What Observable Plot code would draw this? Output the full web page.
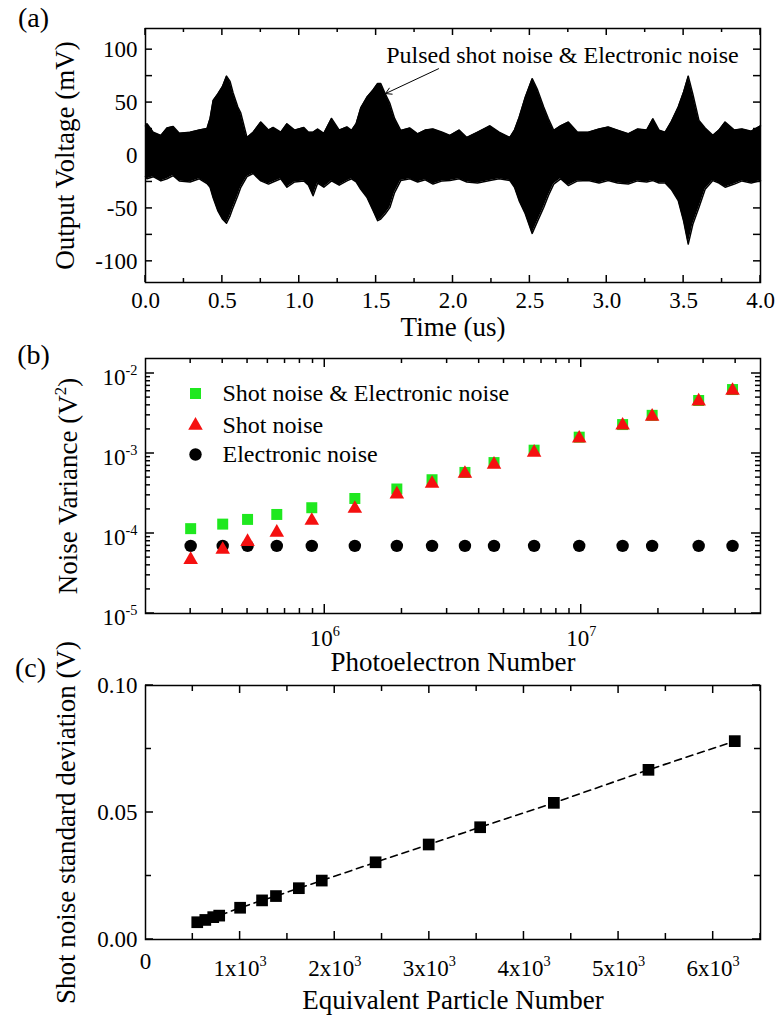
<!DOCTYPE html>
<html>
<head>
<meta charset="utf-8">
<script src="https://cdn.jsdelivr.net/npm/d3@7"></script>
<script src="https://cdn.jsdelivr.net/npm/@observablehq/plot@0.6"></script>
<style>
  body { margin: 0; background: #fff; }
  #fig { position: relative; width: 778px; height: 1018px; }
  #fig > div { position: absolute; left: 0; }
  #fig svg { overflow: visible; }
  #fig svg text, #fig svg tspan { font-family: "Liberation Serif", "Times New Roman", Times, serif !important; font-variant-numeric: normal !important; }
</style>
</head>
<body>
<div id="fig">
  <div id="pa" style="top:0px"></div>
  <div id="pb" style="top:330px"></div>
  <div id="pc" style="top:650px"></div>
</div>
<script>
// ---------- (a) oscilloscope traces: upper / lower envelope of the overlaid traces ----------
const traceTime = [0.00, 0.01, 0.05, 0.10, 0.14, 0.18, 0.22, 0.29, 0.35, 0.40, 0.42, 0.44, 0.47, 0.50, 0.527, 0.55, 0.57, 0.60, 0.62, 0.66,
  0.70, 0.75, 0.80, 0.83, 0.88, 0.92, 0.97, 1.03, 1.06, 1.09, 1.12, 1.16, 1.21, 1.26, 1.31, 1.34, 1.37, 1.40, 1.44, 1.48,
  1.51, 1.53, 1.56, 1.59, 1.62, 1.66, 1.72, 1.77, 1.82, 1.87, 1.93, 1.98, 2.04, 2.09, 2.16, 2.24, 2.30, 2.37, 2.40, 2.43,
  2.47, 2.515, 2.55, 2.59, 2.62, 2.655, 2.70, 2.75, 2.81, 2.88, 2.95, 3.01, 3.07, 3.14, 3.20, 3.26, 3.30, 3.34, 3.38, 3.42,
  3.465, 3.50, 3.53, 3.56, 3.60, 3.64, 3.69, 3.73, 3.77, 3.83, 3.88, 3.94, 4.00];
const traceUpper = [28, 30, 22, 19, 26, 27.5, 21, 22, 24, 25.6, 35, 52, 58, 65, 75, 70, 59, 46, 40, 17,
  22, 31.6, 24, 26.5, 22, 30, 24, 26.5, 22, 22, 25, 21, 35, 24, 27, 23.7, 30, 45, 55, 62,
  68, 68, 58, 49, 35, 23.7, 26, 20.5, 24, 25, 22, 19, 24, 17, 22, 28, 22, 17, 24, 36,
  55, 72.6, 62, 45.8, 35, 23.7, 28, 31.6, 22, 22, 25, 27, 24, 20.5, 25, 24, 34.7, 24, 22, 32,
  45.8, 60, 75, 58, 33, 26, 19, 24, 31.6, 24, 25, 23, 28];
const traceLower = [-20, -22, -20, -24, -22, -19, -24, -25, -22, -26.5, -30, -40, -52, -60, -64, -57, -49, -38, -30, -20,
  -17, -24, -27, -25, -22, -30, -25, -24, -28, -38, -26, -30, -24, -28, -24, -22, -25, -32, -39.5, -52,
  -61.6, -60, -55, -49, -35, -23.7, -22, -25, -23, -27, -24, -23.7, -22, -25, -26, -23.7, -22, -23.7, -30, -42.6,
  -55, -73.6, -62, -49, -38, -27, -22, -28.4, -24, -23.7, -26, -23.7, -26, -27, -24, -25, -23.7, -26, -26, -32,
  -42.6, -62, -83.7, -65, -49, -32, -23.7, -26, -30, -27, -24, -26, -23.7];
const timeTicks = [0, 0.5, 1, 1.5, 2, 2.5, 3, 3.5, 4];
const timeMinorTicks = [0.25, 0.75, 1.25, 1.75, 2.25, 2.75, 3.25, 3.75];
const voltageTicks = [-100, -50, 0, 50, 100];
const voltageMinorTicks = [-75, -25, 25, 75];
const pulseNote = [{text: "Pulsed shot noise & Electronic noise", t: 2.712, v: 94.8}];
const pulseArrow = [{t1: 1.906, v1: 82, t2: 1.561, v2: 58.5}];

// ---------- (b) noise variance vs photoelectron number ----------
const seriesNames = ["Shot noise & Electronic noise", "Shot noise", "Electronic noise"];
const photoelectrons = [3.0e5, 4.0e5, 5.0e5, 6.5e5, 8.9e5, 1.31e6, 1.91e6, 2.62e6, 3.52e6, 4.57e6, 6.55e6, 9.82e6, 1.45e7, 1.89e7, 2.87e7, 3.89e7];
const totalNoise = [1.15e-4, 1.31e-4, 1.5e-4, 1.73e-4, 2.1e-4, 2.74e-4, 3.6e-4, 4.7e-4, 5.8e-4, 7.7e-4, 1.1e-3, 1.6e-3, 2.3e-3, 3.0e-3, 4.6e-3, 6.3e-3];
const shotNoise = [4.7e-5, 6.3e-5, 7.9e-5, 1.03e-4, 1.45e-4, 2.05e-4, 3.1e-4, 4.2e-4, 5.6e-4, 7.3e-4, 1.03e-3, 1.55e-3, 2.25e-3, 2.9e-3, 4.5e-3, 6.1e-3];
const electronicNoise = [7.0e-5, 7.0e-5, 7.0e-5, 7.0e-5, 7.0e-5, 7.0e-5, 7.0e-5, 7.0e-5, 7.0e-5, 7.0e-5, 7.0e-5, 7.0e-5, 7.0e-5, 7.0e-5, 7.0e-5, 7.0e-5];
const varianceTicks = [1e-5, 1e-4, 1e-3, 1e-2];
const photoTicks = [1e6, 1e7];

// ---------- (c) shot noise standard deviation vs equivalent particle number ----------
const particles = [547, 632, 716, 779, 1000, 1232, 1379, 1621, 1863, 2432, 2993, 3537, 4316, 5316, 6228];
const shotStd = [0.0068, 0.0077, 0.0088, 0.0094, 0.0125, 0.0154, 0.0171, 0.0202, 0.0232, 0.0304, 0.0374, 0.0442, 0.0538, 0.0668, 0.0781];
const particleTicks = [1000, 2000, 3000, 4000, 5000, 6000];
const particleMinorTicks = [500, 1500, 2500, 3500, 4500, 5500, 6500];
const stdTicks = [0, 0.05, 0.1];
const stdMinorTicks = [0.025, 0.075];

const FONT = '"Liberation Serif", "Times New Roman", Times, serif';
const GREEN = "#1fe81f";
const RED = "#f51010";

// minor ticks 2..9 of every decade inside [lo, hi]
function logMinor(lo, hi) {
  const out = [];
  for (let e = Math.floor(Math.log10(lo)); e <= Math.ceil(Math.log10(hi)); e++)
    for (let m = 2; m <= 9; m++) {
      const v = m * Math.pow(10, e);
      if (v > lo * 1.0001 && v < hi * 0.9999) out.push(v);
    }
  return out;
}
const pow10 = d => "10^{" + Math.round(Math.log10(d)) + "}";

// short ticks pointing into the frame on all four sides, placed with the chart's own scales
function boxTicks(chart, spec) {
  const sx = chart.scale("x"), sy = chart.scale("y");
  const [left, right] = d3.extent(sx.range);
  const [top, bottom] = d3.extent(sy.range);
  const g = d3.select(chart).append("g").attr("stroke", "black").attr("stroke-width", 1.5).attr("fill", "none");
  for (const [vals, s] of spec.x) for (const v of vals) {
    const px = sx.apply(v);
    g.append("line").attr("x1", px).attr("x2", px).attr("y1", bottom).attr("y2", bottom - s);
    g.append("line").attr("x1", px).attr("x2", px).attr("y1", top).attr("y2", top + s);
  }
  for (const [vals, s] of spec.y) for (const v of vals) {
    const py = sy.apply(v);
    g.append("line").attr("y1", py).attr("y2", py).attr("x1", left).attr("x2", left + s);
    g.append("line").attr("y1", py).attr("y2", py).attr("x1", right).attr("x2", right - s);
  }
}

const baseStyle = {fontFamily: FONT, fontSize: "23px", background: "transparent", overflow: "visible", color: "black"};
const title = (s, opts) => Plot.text([s], {text: d => d, fontSize: 27, fontFamily: FONT, fill: "black", textAnchor: "middle", lineAnchor: "middle", ...opts});
const panelTag = (s, dx, dy) => Plot.text([s], {text: d => d, frameAnchor: "top-left", dx, dy, fontSize: 28, fontFamily: FONT, textAnchor: "middle", lineAnchor: "middle", fill: "black"});

// turn "a^{b}" into a raised tspan
function supify(svg) {
  svg.querySelectorAll("text").forEach(t => {
    const s = t.textContent;
    if (!s.includes("^{")) return;
    const fs = parseFloat(t.getAttribute("font-size")) || parseFloat(getComputedStyle(t).fontSize) || 23;
    const parts = s.split(/(\^\{[^}]*\})/).filter(p => p);
    t.textContent = "";
    let shift = 0;
    for (const p of parts) {
      const ts = document.createElementNS("http://www.w3.org/2000/svg", "tspan");
      if (p.startsWith("^{")) {
        ts.textContent = p.slice(2, -1);
        ts.setAttribute("font-size", (fs * 0.62).toFixed(1));
        ts.setAttribute("dy", (-fs * 0.42).toFixed(1));
        shift = fs * 0.42;
      } else {
        ts.textContent = p;
        if (shift) { ts.setAttribute("dy", shift.toFixed(1)); shift = 0; }
      }
      t.appendChild(ts);
    }
  });
}
function mount(id, chart, ticks) {
  document.getElementById(id).append(chart);
  boxTicks(chart, ticks);
  supify(chart);
}

const W = 778, ML = 145, MR = 18;

// ---------- panel (a) ----------
mount("pa", Plot.plot({
  width: W, height: 340,
  marginLeft: ML, marginRight: MR, marginTop: 28, marginBottom: 58,
  style: baseStyle,
  x: {domain: [0, 4], label: null, axis: null},
  y: {domain: [-120, 120], label: null, axis: null},
  marks: [
    Plot.areaY(traceTime, {x: traceTime, y1: traceLower, y2: traceUpper, fill: "black"}),
    Plot.lineY(traceTime, {x: traceTime, y: traceUpper, stroke: "black", strokeWidth: 1.5}),
    Plot.lineY(traceTime, {x: traceTime, y: traceLower, stroke: "black", strokeWidth: 1.5}),
    Plot.arrow(pulseArrow, {x1: "t1", y1: "v1", x2: "t2", y2: "v2", stroke: "black", strokeWidth: 1, headLength: 10}),
    Plot.text(pulseNote, {x: "t", y: "v", text: "text", fontSize: 24, fontFamily: FONT, fill: "black"}),
    Plot.frame({stroke: "black", strokeWidth: 1.5}),
    Plot.axisX(timeTicks, {anchor: "bottom", tickSize: 0, tickPadding: 9, tickFormat: d3.format(".1f"), label: null}),
    Plot.axisY(voltageTicks, {anchor: "left", tickSize: 0, tickPadding: 8, tickFormat: d => String(d), label: null}),
    title("Time (us)", {frameAnchor: "bottom", dy: 45}),
    title("Output Voltage (mV)", {frameAnchor: "left", dx: -80, rotate: -90}),
    panelTag("(a)", -112, -10)
  ]
}), {x: [[timeTicks, 7], [timeMinorTicks, 4]], y: [[voltageTicks, 7], [voltageMinorTicks, 7]]});

// ---------- panel (b) ----------
const vDomain = [1e-5, 0.0154];
const nDomain = [2e5, 5e7];
const legendRows = [
  {name: seriesNames[0], symbol: "square", fill: GREEN, r: 6.2, dy: 35},
  {name: seriesNames[1], symbol: "triangle", fill: RED, r: 5.4, dy: 67},
  {name: seriesNames[2], symbol: "circle", fill: "black", r: 6.2, dy: 96}
];
mount("pb", Plot.plot({
  width: W, height: 345,
  marginLeft: ML, marginRight: MR, marginTop: 28, marginBottom: 62,
  style: baseStyle,
  x: {type: "log", domain: nDomain, label: null, axis: null},
  y: {type: "log", domain: vDomain, label: null, axis: null},
  marks: [
    Plot.dot(photoelectrons, {x: photoelectrons, y: totalNoise, symbol: "square", r: 6.2, fill: GREEN}),
    Plot.dot(photoelectrons, {x: photoelectrons, y: electronicNoise, symbol: "circle", r: 6.2, fill: "black"}),
    Plot.dot(photoelectrons, {x: photoelectrons, y: shotNoise, symbol: "triangle", r: 5.4, fill: RED}),
    ...legendRows.map(d => Plot.dot([d], {frameAnchor: "top-left", dx: 50, dy: d.dy, symbol: d.symbol, r: d.r, fill: d.fill})),
    ...legendRows.map(d => Plot.text([d], {frameAnchor: "top-left", dx: 77, dy: d.dy, text: "name", textAnchor: "start", lineAnchor: "middle", fontSize: 24, fontFamily: FONT, fill: "black"})),
    Plot.frame({stroke: "black", strokeWidth: 1.5}),
    Plot.axisX(photoTicks, {anchor: "bottom", tickSize: 0, tickPadding: 16, tickFormat: pow10, label: null}),
    Plot.axisY(varianceTicks, {anchor: "left", tickSize: 0, tickPadding: 8, dy: 4, tickFormat: pow10, label: null}),
    title("Photoelectron Number", {frameAnchor: "bottom", dy: 49}),
    title("Noise Variance (V^{2})", {frameAnchor: "left", dx: -77, rotate: -90}),
    panelTag("(b)", -112, -3)
  ]
}), {x: [[photoTicks, 9], [logMinor(...nDomain), 5]], y: [[varianceTicks, 9], [logMinor(...vDomain), 5]]});

// ---------- panel (c) ----------
mount("pc", Plot.plot({
  width: W, height: 368,
  marginLeft: ML, marginRight: MR, marginTop: 35, marginBottom: 79,
  style: baseStyle,
  x: {domain: [0, 6500], label: null, axis: null},
  y: {domain: [0, 0.1], label: null, axis: null},
  marks: [
    Plot.line(particles, {x: particles, y: shotStd, stroke: "black", strokeWidth: 1.6, strokeDasharray: "7,5"}),
    Plot.dot(particles, {x: particles, y: shotStd, symbol: "square", r: 6.6, fill: "black"}),
    Plot.frame({stroke: "black", strokeWidth: 1.5}),
    Plot.axisX([0], {anchor: "bottom", tickSize: 0, tickPadding: 13, tickFormat: d => String(d), label: null}),
    Plot.axisX(particleTicks, {anchor: "bottom", tickSize: 0, tickPadding: 20, tickFormat: d => (d / 1000) + "x10^{3}", label: null}),
    Plot.axisY(stdTicks, {anchor: "left", tickSize: 0, tickPadding: 8, tickFormat: d3.format(".2f"), label: null}),
    title("Equivalent Particle Number", {frameAnchor: "bottom", dy: 61}),
    title("Shot noise standard deviation (V)", {frameAnchor: "left", dx: -79, dy: 10, rotate: -90}),
    panelTag("(c)", -115, -17)
  ]
}), {x: [[particleTicks, 8], [particleMinorTicks, 6]], y: [[stdTicks, 8], [stdMinorTicks, 6]]});
</script>
</body>
</html>
